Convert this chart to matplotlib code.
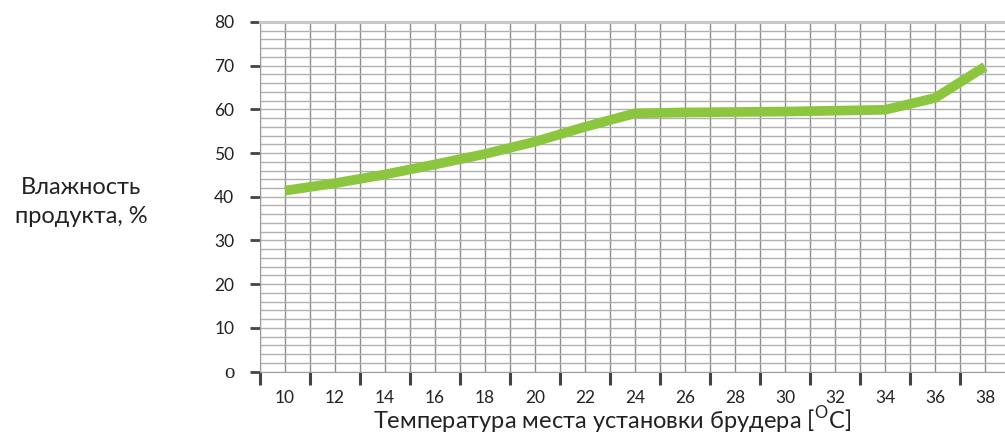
import matplotlib
matplotlib.use("Agg")
import matplotlib.pyplot as plt
import numpy as np

# Brooder placement temperature (°C) and resulting product moisture (%)
temps = [10, 12, 14, 16, 18, 20, 22, 24, 26, 28, 30, 32, 34, 36, 38]
moisture = [41.4, 43.1, 45.1, 47.4, 49.8, 52.6, 56.0, 59.1, 59.3, 59.4, 59.5, 59.7, 59.9, 62.6, 69.8]
y_ticks = [0, 10, 20, 30, 40, 50, 60, 70, 80]
y_tick_labels = ["o", "10", "20", "30", "40", "50", "60", "70", "80"]
x_label = "Температура места установки брудера [$^{\\mathrm{O}}$C]"
y_label = "Влажность\nпродукта, %"

plt.rcParams["font.family"] = ["Lato", "DejaVu Sans"]
plt.rcParams["mathtext.fontset"] = "custom"
plt.rcParams["mathtext.rm"] = "Lato"

W, H = 1005, 434
fig = plt.figure(figsize=(W / 100, H / 100), dpi=100)
ax = fig.add_axes([260 / W, (H - 371.5) / H, (W - 260) / W, (371.5 - 22) / H])

ax.set_xlim(9, 38.8)
ax.set_ylim(0, 80)

# fine grid: every 1 °C vertically, every 2 % horizontally
for xv in np.arange(9, 39, 1):
    ax.axvline(xv, color="#8e8e8e", lw=1.0, zorder=1)
for yv in np.arange(0, 81, 2):
    ax.axhline(yv, color="#b0b0b0", lw=1.0, zorder=1)

ax.plot(temps, moisture, color="#8cc63e", lw=7.0, solid_capstyle="butt",
        solid_joinstyle="round", zorder=3)

ax.spines["right"].set_visible(False)
ax.spines["top"].set_color("#c8c8c8")
ax.spines["top"].set_linewidth(2.2)
ax.spines["left"].set_color("#9c9c9c")
ax.spines["bottom"].set_color("#9c9c9c")

# y axis
ax.set_yticks(y_ticks)
ax.set_yticklabels(y_tick_labels, fontsize=12.5, color="#222222")
for lbl in ax.get_yticklabels():
    if lbl.get_text() == "o":
        lbl.set_fontfamily(["Liberation Serif"])
        lbl.set_fontsize(15)
ax.tick_params(axis="y", direction="out", length=7.5, width=2.0,
               color="#444444", pad=11)

# x axis: thick ticks between the labelled temperatures
ax.set_xticks(np.arange(9, 39, 2))
ax.set_xticklabels([])
ax.set_xticks(temps, minor=True)
ax.set_xticklabels([str(t) for t in temps], minor=True, fontsize=12.5, color="#222222")
ax.tick_params(axis="x", which="major", direction="out", length=9, width=2.2,
               color="#444444")
ax.tick_params(axis="x", which="minor", length=0, pad=13)

fig.text(612 / W, (H - 420) / H, x_label, ha="center", va="center",
         fontsize=17, color="#222222")
fig.text(81 / W, (H - 202) / H, y_label, ha="center", va="center",
         fontsize=17, color="#222222", linespacing=1.5)

fig.savefig("out.png", dpi=100)
